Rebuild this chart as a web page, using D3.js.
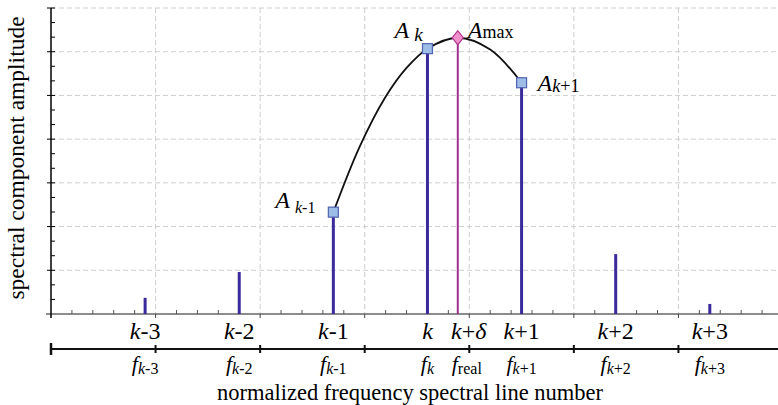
<!DOCTYPE html>
<html>
<head>
<meta charset="utf-8">
<script src="https://cdn.jsdelivr.net/npm/d3@7"></script>
<style>
  body { margin: 0; background: #fff; }
  text { font-family: "Liberation Serif", "DejaVu Serif", serif; }
</style>
</head>
<body>
<svg id="svg" width="778" height="405"></svg>
<script>
// spectral lines (position in grid units, amplitude in grid units)
let lineNames = ['k-3', 'k-2', 'k-1', 'k', 'k+1', 'k+2', 'k+3'];
let linePos = [0.9, 1.8, 2.7, 3.6, 4.5, 5.4, 6.3];
let lineAmp = [0.37, 0.96, 2.33, 6.07, 5.29, 1.37, 0.23];

// the true peak
let peakPos = 3.89;
let peakAmp = 6.32;

// points
let curveX = [2.7, 2.95, 3.2, 3.4, 3.6, 3.89, 4.2, 4.5];
let curveY = [2.33, 3.82, 4.97, 5.63, 6.07, 6.32, 6.05, 5.29];

let svg = d3.select('#svg');
let padding = { t: 8, l: 51, b: 314 };

let x = d3.scaleLinear().domain([0, 7]).range([padding.l, 783]);
let y = d3.scaleLinear().domain([0, 7]).range([padding.b, padding.t]);

let gridColor = '#cfcfcf';

// dashed grid
svg.append('g').selectAll('line')
    .data(d3.range(1, 8))
    .enter().append('line')
    .attr('x1', padding.l).attr('x2', 778)
    .attr('y1', d => y(d)).attr('y2', d => y(d))
    .attr('stroke', gridColor).attr('stroke-dasharray', '5,3');

svg.append('g').selectAll('line')
    .data(d3.range(1, 7))
    .enter().append('line')
    .attr('x1', d => x(d)).attr('x2', d => x(d))
    .attr('y1', padding.t).attr('y2', padding.b)
    .attr('stroke', gridColor).attr('stroke-dasharray', '5,3');

// x axis (grey) with minor ticks up and major ticks down
let xAxisG = svg.append('g');
xAxisG.append('line')
    .attr('x1', 46).attr('x2', 778)
    .attr('y1', padding.b).attr('y2', padding.b)
    .attr('stroke', '#666').attr('stroke-width', 1.5);
xAxisG.selectAll('.minor')
    .data(d3.range(0, 36).map(d => d * 0.2).filter(d => Math.abs(d - Math.round(d)) > 0.01))
    .enter().append('line')
    .attr('x1', d => x(d)).attr('x2', d => x(d))
    .attr('y1', padding.b - 4).attr('y2', padding.b)
    .attr('stroke', '#555');
xAxisG.selectAll('.major')
    .data(d3.range(1, 7))
    .enter().append('line')
    .attr('x1', d => x(d)).attr('x2', d => x(d))
    .attr('y1', padding.b).attr('y2', padding.b + 4)
    .attr('stroke', '#444');

// y axis (black)
let yAxisG = svg.append('g');
yAxisG.append('line')
    .attr('x1', padding.l).attr('x2', padding.l)
    .attr('y1', padding.t).attr('y2', padding.b + 4)
    .attr('stroke', '#000').attr('stroke-width', 1.5);
yAxisG.selectAll('.minor')
    .data(d3.range(1, 21).map(d => d / 3).filter(d => Math.abs(d - Math.round(d)) > 0.01))
    .enter().append('line')
    .attr('x1', padding.l).attr('x2', padding.l + 4)
    .attr('y1', d => y(d)).attr('y2', d => y(d))
    .attr('stroke', '#000');
yAxisG.selectAll('.major')
    .data(d3.range(1, 8))
    .enter().append('line')
    .attr('x1', padding.l - 4).attr('x2', padding.l + 4)
    .attr('y1', d => y(d)).attr('y2', d => y(d))
    .attr('stroke', '#000');

// spectral lines
let barColor = '#3a2a9c';
svg.append('g').selectAll('line')
    .data(linePos)
    .enter().append('line')
    .attr('x1', d => x(d)).attr('x2', d => x(d))
    .attr('y1', padding.b)
    .attr('y2', (d, i) => y(lineAmp[i]))
    .attr('stroke', barColor).attr('stroke-width', 3);

// peak line
svg.append('line')
    .attr('x1', x(peakPos)).attr('x2', x(peakPos))
    .attr('y1', padding.b).attr('y2', y(peakAmp))
    .attr('stroke', '#a0308e').attr('stroke-width', 2);

// curve
let curvePts = curveX.map((d, i) => [d, curveY[i]]);
svg.append('path')
    .datum(curvePts)
    .attr('d', d3.line().x(d => x(d[0])).y(d => y(d[1])).curve(d3.curveCatmullRom))
    .attr('fill', 'none').attr('stroke', '#111').attr('stroke-width', 1.8);

// markers on the three lines
[2, 3, 4].forEach(i => {
    svg.append('rect')
        .attr('x', x(linePos[i]) - 5).attr('y', y(lineAmp[i]) - 5)
        .attr('width', 10).attr('height', 10)
        .attr('fill', '#9ebde6').attr('stroke', '#4f62b0').attr('stroke-width', 1.2);
});

// peak diamond
svg.append('path')
    .attr('d', d3.symbol().type(d3.symbolDiamond).size(70))
    .attr('transform', 'translate(' + [x(peakPos), y(peakAmp)] + ') scale(1.25,0.9)')
    .attr('fill', '#f090cc').attr('stroke', '#b0348f').attr('stroke-width', 1);

// amplitude labels: italic A with a subscript (italic k, upright rest)
function ampLabel(px, py, sub, subSize, dx, dy) {
    let t = svg.append('text')
        .attr('x', px).attr('y', py)
        .attr('font-size', 24);
    t.append('tspan').attr('font-style', 'italic').text('A');
    if (sub == 'max') {
        t.append('tspan').attr('dx', dx).attr('dy', dy)
            .attr('font-size', subSize).text(sub);
        return;
    }
    t.append('tspan').attr('dx', dx).attr('dy', dy)
        .attr('font-size', subSize).attr('font-style', 'italic').text('k');
    if (sub.length > 1) {
        t.append('tspan').attr('font-size', subSize).text(sub.slice(1));
    }
}
ampLabel(x(linePos[3]) - 33, y(lineAmp[3]) - 11, 'k', 19, 5, 3);
ampLabel(x(peakPos) + 10, y(peakAmp) + 0, 'max', 18, 0, 0);
ampLabel(x(linePos[4]) + 16, y(lineAmp[4]) + 8, 'k+1', 18, 0, 1);
ampLabel(x(linePos[2]) - 58, y(lineAmp[2]) - 4, 'k-1', 16, 5, 5);

// line number labels
let labelG = svg.append('g').attr('font-size', 24).attr('text-anchor', 'middle');
lineNames.forEach((d, i) => {
    let t = labelG.append('text').attr('x', x(linePos[i])).attr('y', 339);
    t.append('tspan').attr('font-style', 'italic').text('k');
    t.append('tspan').text(d.slice(1));
});
let kd = labelG.append('text').attr('x', x(peakPos) + 11).attr('y', 339);
kd.append('tspan').attr('font-style', 'italic').text('k');
kd.append('tspan').text('+');
kd.append('tspan').attr('font-style', 'italic').text('δ');

// bottom frequency axis
let fy = 349;
svg.append('line')
    .attr('x1', padding.l).attr('x2', 778)
    .attr('y1', fy).attr('y2', fy)
    .attr('stroke', '#111').attr('stroke-width', 2);
svg.append('line')
    .attr('x1', padding.l).attr('x2', padding.l)
    .attr('y1', fy - 6).attr('y2', fy + 6)
    .attr('stroke', '#111').attr('stroke-width', 2.5);
svg.append('g').selectAll('line')
    .data(d3.range(1, 7))
    .enter().append('line')
    .attr('x1', d => x(d)).attr('x2', d => x(d))
    .attr('y1', fy - 4).attr('y2', fy + 4)
    .attr('stroke', '#111').attr('stroke-width', 2);

// frequency labels
lineNames.forEach((d, i) => {
    let t = labelG.append('text').attr('x', x(linePos[i])).attr('y', 371).attr('font-size', 22);
    t.append('tspan').attr('font-style', 'italic').text('f');
    t.append('tspan').attr('dy', 3).attr('font-size', 16).attr('font-style', 'italic').text('k');
    if (d.length > 1) t.append('tspan').attr('font-size', 16).text(d.slice(1));
});
let fr = labelG.append('text').attr('x', x(peakPos) + 9).attr('y', 371).attr('font-size', 22);
fr.append('tspan').attr('font-style', 'italic').text('f');
fr.append('tspan').attr('dy', 3).attr('font-size', 16).text('real');

// axis titles
svg.append('text')
    .attr('x', 410).attr('y', 400)
    .attr('text-anchor', 'middle').attr('font-size', 22.5)
    .text('normalized frequency spectral line number');

svg.append('text')
    .attr('transform', 'translate(24,158) rotate(-90)')
    .attr('text-anchor', 'middle').attr('font-size', 23.5)
    .text('spectral component amplitude');
</script>
</body>
</html>
